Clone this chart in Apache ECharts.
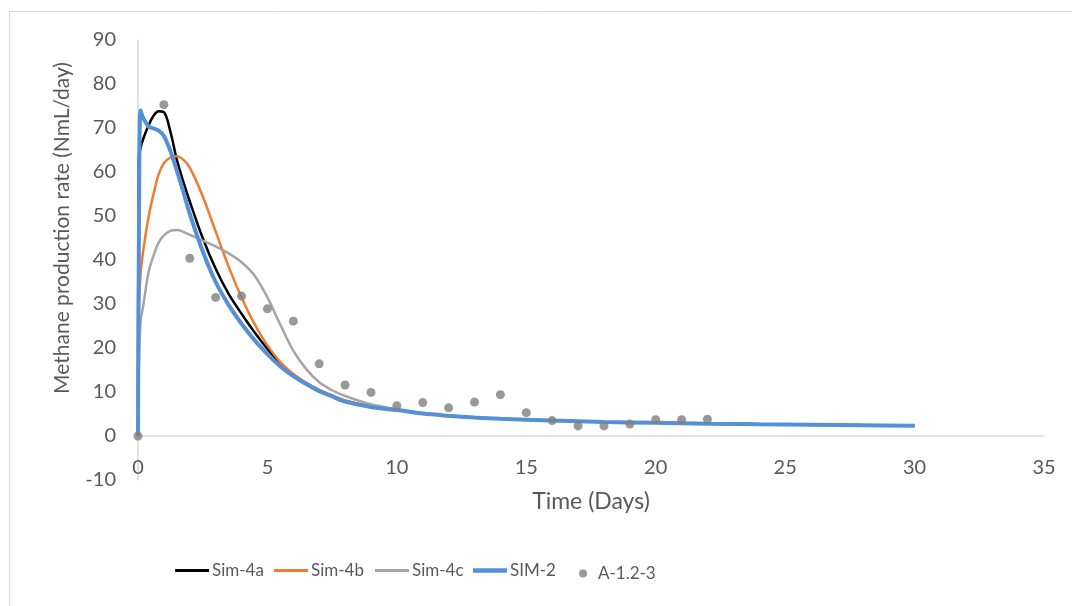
<!DOCTYPE html>
<html>
<head>
<meta charset="utf-8">
<script src="https://cdn.jsdelivr.net/npm/echarts@6/dist/echarts.min.js"></script>
<style>
html,body{margin:0;padding:0;background:#fff;}
#chart{width:1072px;height:606px;}
</style>
</head>
<body>
<div id="chart"></div>
<script>
// ---- data ----
const simTime = [0, 0.03, 0.1, 0.2, 0.4, 0.6, 0.8, 1.0, 1.25, 1.5, 1.75, 2, 2.5, 3, 3.5, 4, 4.5, 5, 5.5, 6, 6.5, 7, 7.5, 8, 9, 10, 11, 12, 13, 14, 16, 18, 20, 22, 24, 26, 28, 30];
const sim4a = [0, 63, 65.5, 67.5, 70.5, 72.8, 73.8, 73.6, 69.2, 62.8, 57.8, 53.3, 45, 38, 32.3, 27.8, 23.6, 19.8, 16.4, 14, 12, 10.4, 9.1, 8, 6.7, 5.9, 5.1, 4.6, 4.2, 3.9, 3.5, 3.2, 3.0, 2.8, 2.65, 2.55, 2.45, 2.35];
const sim4b = [0, 28, 37, 42, 49.5, 55, 59.5, 62, 63.3, 63.6, 62.8, 61, 54.5, 46.5, 38.5, 31.5, 25.5, 20.6, 16.8, 14.1, 12.1, 10.5, 9.2, 8.1, 6.7, 5.9, 5.1, 4.6, 4.2, 3.9, 3.5, 3.2, 3.0, 2.8, 2.65, 2.55, 2.45, 2.35];
const sim4c = [0, 15, 26, 29.5, 37, 41, 44, 45.6, 46.6, 46.8, 46.4, 45.7, 44.4, 43.1, 41.5, 39.5, 36.5, 31.5, 25.3, 19.4, 15.2, 12.2, 10.4, 9.1, 7.2, 6.1, 5.2, 4.6, 4.2, 3.9, 3.5, 3.2, 3.0, 2.8, 2.65, 2.55, 2.45, 2.35];
const sim2 = [0, 40, 74, 72.3, 70.4, 69.9, 69.4, 68.2, 64.8, 60.3, 55.5, 50.5, 42, 35, 29.8, 25.5, 21.8, 18.6, 15.8, 13.6, 11.8, 10.2, 9.0, 7.8, 6.6, 5.9, 5.1, 4.6, 4.2, 3.9, 3.5, 3.2, 3.0, 2.8, 2.65, 2.55, 2.45, 2.35];
const obsDay = [0, 1, 2, 3, 4, 5, 6, 7, 8, 9, 10, 11, 12, 13, 14, 15, 16, 17, 18, 19, 20, 21, 22];
const obsRate = [0, 75.3, 40.4, 31.5, 31.8, 28.9, 26.1, 16.4, 11.6, 9.9, 6.9, 7.6, 6.4, 7.7, 9.4, 5.3, 3.5, 2.3, 2.3, 2.7, 3.7, 3.7, 3.8];
const lineNames = ['Sim-4a', 'Sim-4b', 'Sim-4c', 'SIM-2'];
const obsName = 'A-1.2-3';
const xTitle = 'Time (Days)';
const yTitle = 'Methane production rate (NmL/day)';

const pairs = (xs, ys) => xs.map((x, i) => [x, ys[i]]);
const FONT = 'Lato';
const TXT = '#595959';
const COLORS = ['#000000', '#ED7D31', '#A5A5A5', '#5590D6'];
const WIDTHS = [2.5, 2.5, 2.5, 4];
const LEG_LEFT = [175, 274, 375, 473];

function lineSeries(i, vals) {
  return {
    name: lineNames[i], type: 'line', data: pairs(simTime, vals),
    symbol: 'none', smooth: 0.35,
    lineStyle: { color: COLORS[i], width: WIDTHS[i] },
    itemStyle: { color: COLORS[i] },
    emphasis: { disabled: true }, animation: false
  };
}

const legends = lineNames.map((n, i) => ({
  data: [{ name: n, icon: 'path://M0 0H34V' + (i === 3 ? 4.5 : 3) + 'H0Z' }],
  left: LEG_LEFT[i], top: 562, itemWidth: 34, itemHeight: 14, padding: 0,
  textStyle: { fontFamily: FONT, fontSize: 17, color: TXT, padding: [0, 0, 0, -2] },
  selectedMode: false
}));
legends.push({
  data: [{ name: obsName, icon: 'circle' }], left: 579, top: 565, itemWidth: 8, itemHeight: 8, padding: 0,
  textStyle: { fontFamily: FONT, fontSize: 17, color: TXT, padding: [0, 0, 0, 6] },
  selectedMode: false
});

const chart = echarts.init(document.getElementById('chart'), null, { renderer: 'canvas' });
chart.setOption({
  backgroundColor: '#ffffff',
  animation: false,
  grid: { left: 138, right: 28, top: 40, bottom: 126, containLabel: false },
  xAxis: {
    type: 'value', min: 0, max: 35, interval: 5,
    name: xTitle, nameLocation: 'middle', nameGap: 10,
    nameTextStyle: { fontFamily: FONT, fontSize: 23, color: TXT },
    axisLine: { onZero: true, lineStyle: { color: '#d9d9d9', width: 1.5 } },
    axisTick: { show: false },
    splitLine: { show: false },
    axisLabel: { fontFamily: FONT, fontSize: 20, color: TXT, margin: -22 }
  },
  yAxis: {
    type: 'value', min: -10, max: 90, interval: 10,
    axisLine: { show: true, onZero: false, lineStyle: { color: '#d9d9d9', width: 1.5 } },
    axisTick: { show: false },
    splitLine: { show: false },
    axisLabel: { fontFamily: FONT, fontSize: 20, color: TXT, margin: 22 }
  },
  legend: legends,
  graphic: [
    { type: 'rect', silent: true, shape: { x: 9.5, y: 11.5, width: 1100, height: 700 },
      style: { fill: 'none', stroke: '#d9d9d9', lineWidth: 1 } },
    { type: 'text', silent: true, x: 62, y: 228, rotation: Math.PI / 2,
      style: { text: yTitle, fill: TXT, font: '21px Lato', align: 'center', verticalAlign: 'middle' } }
  ],
  series: [
    lineSeries(0, sim4a),
    lineSeries(1, sim4b),
    lineSeries(2, sim4c),
    lineSeries(3, sim2),
    {
      name: obsName, type: 'scatter', data: pairs(obsDay, obsRate),
      symbol: 'circle', symbolSize: 9,
      itemStyle: { color: '#808080' }, emphasis: { disabled: true }, z: 5
    }
  ]
});
</script>
</body>
</html>
